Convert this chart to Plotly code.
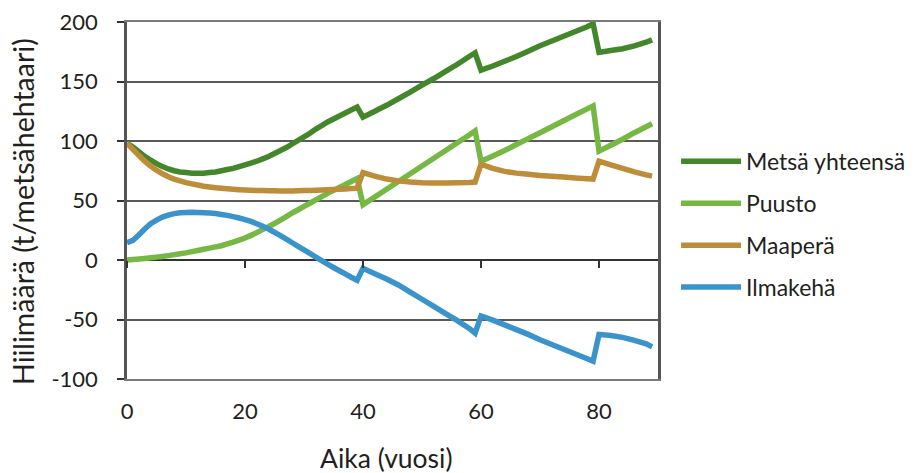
import plotly.graph_objects as go

# Time (years)
aika = list(range(0, 40)) + [40, 42, 44, 46, 48, 50, 52, 54, 56, 58, 59,
                             60, 62, 64, 66, 68, 70, 72, 74, 76, 78, 79,
                             80, 82, 84, 86, 88, 89]

metsa_yhteensa = [98, 95, 91, 87, 84, 81, 78.5, 76.5, 75, 74, 73.5, 73, 73, 73, 73.5, 74, 75, 76, 77, 78.5,
                  80, 81.5, 83, 85, 87, 89.5, 92, 94.5, 97.5, 100.5, 103.5, 106.5, 110, 113, 116, 118.5, 121, 123.5, 126, 128.5,
                  120, 125, 130, 135.5, 141, 147, 152.5, 158.5, 164.5, 171, 174,
                  159.5, 163, 167, 171, 175.5, 180, 184, 188, 192, 196, 198.5,
                  174.5, 176, 177.5, 180, 183, 185]

puusto = [0, 0.4, 0.8, 1.3, 1.8, 2.4, 3, 3.7, 4.5, 5.2, 6, 7, 8, 9, 10, 11, 12, 13.5, 15, 16.7,
          18.5, 20.7, 23, 25.5, 28, 30.7, 33.5, 36.5, 39.5, 42.2, 45, 47.7, 50.5, 53.2, 56, 58.5, 61, 63.5, 66, 68.5,
          46.5, 53, 59.5, 66, 72.5, 79, 85.5, 92, 98.5, 105, 108.5,
          83, 87.5, 92, 97, 102, 107, 112, 117, 122, 127, 129.5,
          91.5, 96.5, 101.5, 107, 112, 114.5]

maapera = [98, 93, 88, 83, 79, 75.5, 72.5, 70, 68, 66.5, 65, 64, 63, 62, 61.3, 60.7, 60.2, 59.8, 59.4, 59.1,
           58.8, 58.6, 58.4, 58.3, 58.2, 58.1, 58, 58, 58, 58.1, 58.3, 58.4, 58.6, 58.8, 59, 59.2, 59.5, 59.7, 60, 60.2,
           73.5, 70.5, 68, 66.5, 65.5, 65, 64.8, 64.8, 65, 65.2, 65.5,
           80.5, 77, 74.5, 73, 72, 71, 70.3, 69.7, 69, 68.3, 68,
           83, 80, 77, 74, 71.5, 70.5]

ilmakeha = [14.5, 16.5, 21, 26, 30.5, 33.5, 36, 37.7, 39, 39.7, 40, 40.2, 40, 39.8, 39.5, 39, 38.3, 37.5, 36.5, 35.3,
            34, 32.4, 30.5, 28.4, 26, 23.3, 20.5, 17.5, 14.5, 11.5, 8.5, 5.5, 2.5, -0.5, -3.5, -6.3, -9, -11.7, -14.5, -17,
            -7, -11.5, -16, -21, -27, -33, -39, -45, -51, -57.5, -61.5,
            -47, -50.5, -54.5, -58.5, -62.5, -67, -71, -75, -79, -83, -85,
            -62.5, -63.5, -65, -67.5, -70.5, -73]

series = [
    ("Metsä yhteensä", metsa_yhteensa, "#44872B"),
    ("Puusto", puusto, "#77B844"),
    ("Maaperä", maapera, "#BD8D3A"),
    ("Ilmakehä", ilmakeha, "#3A93CB"),
]

x_ticks = [0, 20, 40, 60, 80]
y_ticks = [-100, -50, 0, 50, 100, 150, 200]

FONT = "Lato"
TXT = "#231f20"

fig = go.Figure()
for i, (name, vals, col) in enumerate(series):
    fig.add_trace(go.Scatter(
        x=aika, y=vals, name=name, mode="lines",
        line=dict(color=col, width=5.5, shape="linear", simplify=False),
        cliponaxis=False, legendgroup=f"g{i}",
    ))

# helper axis at y=0 carrying the tick marks
fig.add_trace(go.Scatter(x=[], y=[], xaxis="x2", showlegend=False, hoverinfo="skip"))

fig.update_layout(
    width=916, height=473,
    margin=dict(l=127, r=258, t=22, b=94, autoexpand=False),
    paper_bgcolor="white", plot_bgcolor="white",
    font=dict(family=FONT, color=TXT, size=22),
    showlegend=True,
    legend=dict(
        x=1.034, y=0.433, xanchor="left", yanchor="middle",
        font=dict(family=FONT, size=23, color=TXT),
        tracegroupgap=9, itemwidth=60, traceorder="grouped",
        bgcolor="rgba(0,0,0,0)",
    ),
    xaxis=dict(
        range=[0, 90], tickvals=x_ticks, ticktext=[str(v) for v in x_ticks],
        showgrid=False, zeroline=False, automargin=False,
        showline=True, linecolor="#7a7a7a", linewidth=2, mirror=True,
        ticks="outside", ticklen=12, tickcolor="rgba(0,0,0,0)",
        tickfont=dict(size=22, family=FONT, color=TXT),
    ),
    xaxis2=dict(
        range=[0, 90], overlaying="x", anchor="free", position=1/3,
        side="bottom", tickvals=x_ticks, showticklabels=False,
        ticks="outside", ticklen=7, tickwidth=1.5, tickcolor="#333",
        showgrid=False, zeroline=False, showline=False, automargin=False,
    ),
    yaxis=dict(
        range=[-100, 200], tickvals=y_ticks, ticktext=[str(v) for v in y_ticks],
        showgrid=True, gridcolor="#5a5a5a", gridwidth=1.5, automargin=False,
        zeroline=True, zerolinecolor="#333", zerolinewidth=1.5,
        showline=True, linecolor="#555", linewidth=2.5, mirror=True,
        ticks="outside", ticklen=7, tickwidth=1.5, tickcolor="#333",
        ticklabelstandoff=15,
        tickfont=dict(size=22, family=FONT, color=TXT),
    ),
    annotations=[
        dict(text="Hiilimäärä (t/metsähehtaari)", xref="paper", yref="paper",
             x=-0.196, y=0.4706, xanchor="center", yanchor="middle", textangle=-90,
             showarrow=False, font=dict(size=28.5, family=FONT, color=TXT)),
        dict(text="Aika (vuosi)", xref="paper", yref="paper",
             x=0.4878, y=-0.2213, xanchor="center", yanchor="middle",
             showarrow=False, font=dict(size=26.5, family=FONT, color=TXT)),
    ],
)

# remove the default 8px page margin so the figure fills the window exactly
fig.write_html(
    "out.html",
    config={"displayModeBar": False},
    post_script="document.documentElement.style.margin='0';document.body.style.margin='0';"
                "document.body.style.padding='0';document.body.style.overflow='hidden';",
)
